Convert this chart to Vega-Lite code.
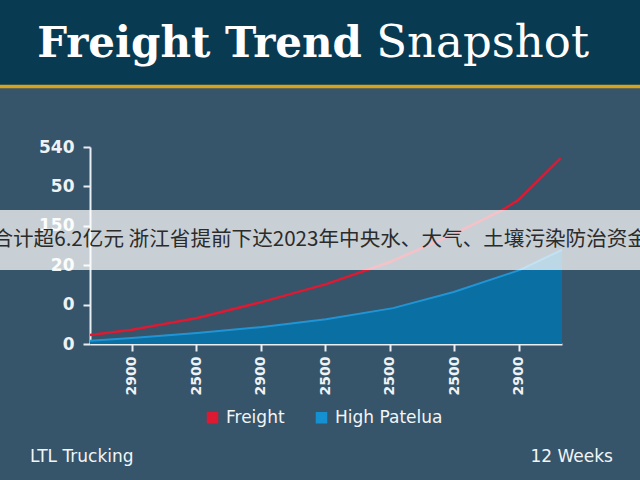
{
  "$schema": "https://vega.github.io/schema/vega-lite/v6.json",
  "width": 472,
  "height": 197,
  "autosize": {"type": "none"},
  "padding": {"left": 90, "top": 147, "right": 78, "bottom": 136},
  "background": "#36546a",
  "view": {"stroke": null},
  "config": {
    "axis": {
      "domainColor": "#e8eef2", "domainWidth": 2, "tickColor": "#e8eef2", "tickWidth": 2, "tickSize": 7, "labelOverlap": false,
      "labelColor": "#eef2f5", "labelFont": "DejaVu Sans", "labelFontWeight": "bold", "grid": false, "title": null, "zindex": 1
    }
  },
  "datasets": {
    "series": [
      {"week": 0.35, "value": 0.23, "series": "Freight"},
      {"week": 1.0, "value": 0.36, "series": "Freight"},
      {"week": 2.01, "value": 0.66, "series": "Freight"},
      {"week": 3.02, "value": 1.07, "series": "Freight"},
      {"week": 4.01, "value": 1.52, "series": "Freight"},
      {"week": 5.0, "value": 2.08, "series": "Freight"},
      {"week": 5.99, "value": 2.79, "series": "Freight"},
      {"week": 6.74, "value": 3.40, "series": "Freight"},
      {"week": 6.99, "value": 3.65, "series": "Freight"},
      {"week": 7.65, "value": 4.72, "series": "Freight"},
      {"week": 0.35, "value": 0.08, "series": "High Patelua"},
      {"week": 1.0, "value": 0.15, "series": "High Patelua"},
      {"week": 2.01, "value": 0.28, "series": "High Patelua"},
      {"week": 3.02, "value": 0.43, "series": "High Patelua"},
      {"week": 4.01, "value": 0.63, "series": "High Patelua"},
      {"week": 5.05, "value": 0.91, "series": "High Patelua"},
      {"week": 5.99, "value": 1.32, "series": "High Patelua"},
      {"week": 7.02, "value": 1.88, "series": "High Patelua"},
      {"week": 7.67, "value": 2.39, "series": "High Patelua"}
    ],
    "one": [{}]
  },
  "layer": [
    {
      "data": {"name": "series"},
      "transform": [{"filter": "datum.series === 'High Patelua'"}],
      "mark": {"type": "area", "opacity": 1, "color": "#0a6fa3"},
      "encoding": {
        "x": {"field": "week", "type": "quantitative", "scale": {"domain": [0.35, 7.67], "nice": false, "zero": false},
          "axis": {"values": [1, 2, 3, 4, 5, 6, 7], "labelAngle": -90, "labelFontSize": 14, "labelPadding": 5, "labelOverlap": false, "labelFlush": false,
            "labelExpr": "['','2900','2500','2900','2500','2500','2500','2900'][datum.value]"}},
        "y": {"field": "value", "type": "quantitative", "stack": null, "scale": {"domain": [0, 5], "nice": false},
          "axis": {"values": [0, 1, 2, 3, 4, 5], "tickCount": 6, "labelFontSize": 17, "labelPadding": 9, "labelOverlap": false,
            "labelExpr": "['0','0','20','150','50','540'][datum.value]"}}
      }
    },
    {
      "data": {"name": "series"},
      "transform": [{"filter": "datum.series === 'High Patelua'"}],
      "mark": {"type": "line", "strokeWidth": 2, "color": "#2095d5"},
      "encoding": {
        "x": {"field": "week", "type": "quantitative"},
        "y": {"field": "value", "type": "quantitative"}
      }
    },
    {
      "data": {"name": "series"},
      "transform": [{"filter": "datum.series === 'Freight'"}],
      "mark": {"type": "line", "strokeWidth": 2.5},
      "encoding": {
        "x": {"field": "week", "type": "quantitative"},
        "y": {"field": "value", "type": "quantitative"},
        "color": {"field": "series", "type": "nominal",
          "scale": {"domain": ["Freight", "High Patelua"], "range": ["#dc1a32", "#1590d0"]},
          "legend": {"orient": "none", "direction": "horizontal", "legendX": 114, "legendY": 262, "title": null,
            "symbolType": "square", "symbolSize": 100, "labelFont": "DejaVu Sans", "labelFontSize": 17, "labelColor": "#f2f5f7",
            "labelOffset": 5, "columnPadding": 28,
            "encode": {"symbols": {"update": {
              "fill": {"scale": "color", "field": "value"},
              "stroke": {"value": "transparent"}, "opacity": {"value": 1}}}}}
        }
      }
    },
    {
      "data": {"name": "one"},
      "mark": {"type": "rect", "color": "#ffffff", "opacity": 0.73},
      "encoding": {
        "x": {"datum": -1.3, "type": "quantitative"},
        "x2": {"datum": 9.2},
        "y": {"datum": 1.88, "type": "quantitative"},
        "y2": {"datum": 3.40}
      }
    },
    {
      "data": {"name": "one"},
      "mark": {"type": "text", "font": "Noto Sans CJK SC", "fontSize": 20.6, "color": "#2b2b2b", "align": "center", "baseline": "middle"},
      "encoding": {
        "x": {"datum": 3.92, "type": "quantitative"},
        "y": {"datum": 2.64, "type": "quantitative"},
        "text": {"value": "合计超6.2亿元 浙江省提前下达2023年中央水、大气、土壤污染防治资金"}
      }
    },
    {
      "data": {"name": "one"},
      "mark": {"type": "rect", "color": "#083a52"},
      "encoding": {
        "x": {"datum": -1.3, "type": "quantitative"},
        "x2": {"datum": 9.2},
        "y": {"datum": 6.57, "type": "quantitative"},
        "y2": {"datum": 9.0}
      }
    },
    {
      "data": {"name": "one"},
      "mark": {"type": "rect", "color": "#d6a31e"},
      "encoding": {
        "x": {"datum": -1.3, "type": "quantitative"},
        "x2": {"datum": 9.2},
        "y": {"datum": 6.49, "type": "quantitative"},
        "y2": {"datum": 6.58}
      }
    },
    {
      "data": {"name": "one"},
      "mark": {"type": "text", "font": "DejaVu Serif", "fontWeight": "bold", "fontSize": 42, "color": "#ffffff", "align": "left", "baseline": "alphabetic"},
      "encoding": {
        "x": {"datum": -0.47, "type": "quantitative"},
        "y": {"datum": 7.28, "type": "quantitative"},
        "text": {"value": "Freight Trend"}
      }
    },
    {
      "data": {"name": "one"},
      "mark": {"type": "text", "font": "DejaVu Serif", "fontWeight": "normal", "fontSize": 45, "color": "#ffffff", "align": "left", "baseline": "alphabetic"},
      "encoding": {
        "x": {"datum": 4.79, "type": "quantitative"},
        "y": {"datum": 7.28, "type": "quantitative"},
        "text": {"value": "Snapshot"}
      }
    },
    {
      "data": {"name": "one"},
      "mark": {"type": "text", "font": "DejaVu Sans", "fontSize": 17, "color": "#f2f5f7", "align": "left", "baseline": "middle"},
      "encoding": {
        "x": {"datum": -0.58, "type": "quantitative"},
        "y": {"datum": -2.87, "type": "quantitative"},
        "text": {"value": "LTL Trucking"}
      }
    },
    {
      "data": {"name": "one"},
      "mark": {"type": "text", "font": "DejaVu Sans", "fontSize": 17, "color": "#f2f5f7", "align": "right", "baseline": "middle"},
      "encoding": {
        "x": {"datum": 8.46, "type": "quantitative"},
        "y": {"datum": -2.87, "type": "quantitative"},
        "text": {"value": "12 Weeks"}
      }
    }
  ]
}
